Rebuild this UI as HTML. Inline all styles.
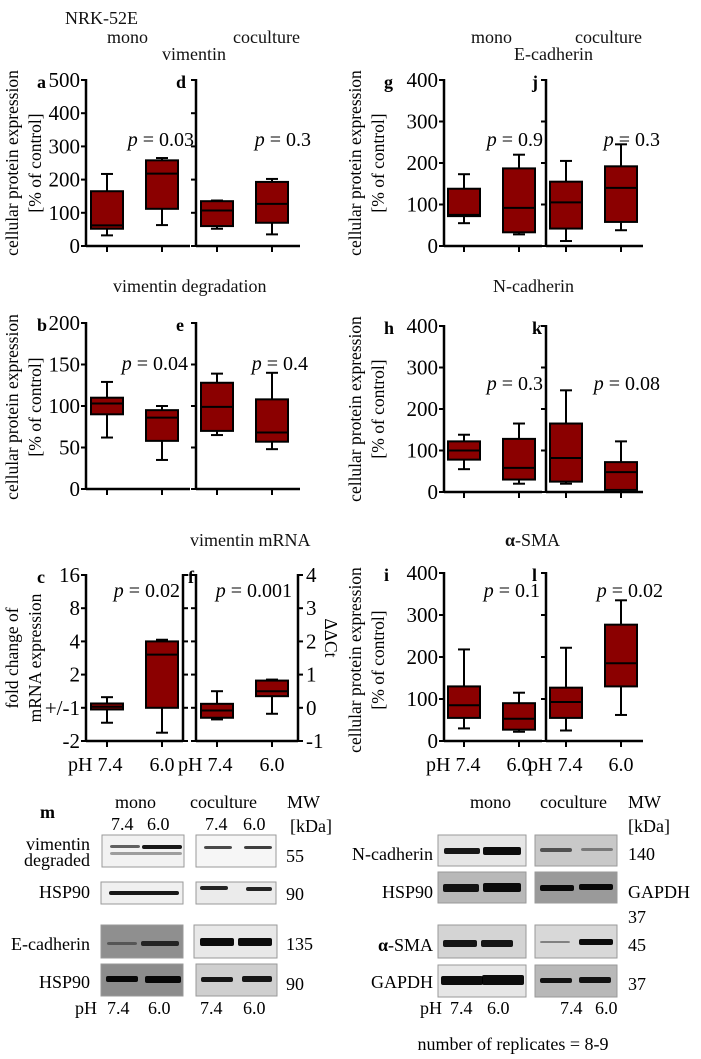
<!DOCTYPE html>
<html><head><meta charset="utf-8"><style>
html,body{margin:0;padding:0;background:#fff;}
svg{display:block;font-family:"Liberation Serif",serif;}
</style></head><body>
<svg id="fig" width="701" height="1059" viewBox="0 0 701 1059">
<g font-size="18" fill="#111">
<text x="65" y="24">NRK-52E</text>
<text x="107" y="43">mono</text>
<text x="233" y="43">coculture</text>
<text x="162" y="60">vimentin</text>
<text x="471" y="43">mono</text>
<text x="575" y="43">coculture</text>
<text x="514" y="60">E-cadherin</text>
<text x="113" y="292">vimentin degradation</text>
<text x="493" y="292">N-cadherin</text>
<text x="190" y="546">vimentin mRNA</text>
<text x="505" y="546"><tspan font-weight="bold">α</tspan>-SMA</text>
</g>
<g id="charts"></g>
<g id="blots"></g>
</svg>
<script>
// ---------- data ----------
const groupLabels = ["pH 7.4", "6.0"];
const aBoxes = [[32,52,62,165,217],[63,112,218,258,265]];
const dBoxes = [[52,60,107,135,137],[35,70,127,193,202]];
const bBoxes = [[62,90,103,110,129],[35,58,86,95,100]];
const eBoxes = [[65,70,99,128,139],[48,57,68,108,140]];
const cBoxes = [[-0.45,-0.05,0.03,0.13,0.32],[-0.75,0,1.6,2,2.05]];
const fBoxes = [[-0.35,-0.3,-0.08,0.12,0.5],[-0.18,0.35,0.5,0.82,0.85]];
const gBoxes = [[55,72,75,138,173],[28,33,92,187,220]];
const jBoxes = [[12,42,105,155,205],[38,58,140,192,245]];
const hBoxes = [[55,78,100,122,138],[20,30,58,128,165]];
const kBoxes = [[20,25,82,165,245],[0,5,48,72,122]];
const iBoxes = [[30,55,85,130,218],[22,27,53,90,115]];
const lBoxes = [[25,55,93,127,222],[62,130,185,277,335]];
const ticks500 = [0,100,200,300,400,500];
const ticks200 = [0,50,100,150,200];
const ticks400 = [0,100,200,300,400];
const ticksDdct = [-1,0,1,2,3,4];
const foldLabels = ["-2","+/-1","2","4","8","16"];
const pValues = ["0.03","0.3","0.04","0.4","0.02","0.001","0.9","0.3","0.3","0.08","0.1","0.02"];

const NS="http://www.w3.org/2000/svg";
const charts=document.getElementById('charts');
function mk(tag,attrs,parent){const e=document.createElementNS(NS,tag);for(const k in attrs)e.setAttribute(k,attrs[k]);(parent||charts).appendChild(e);return e;}

function panel(o){
  const g=mk('g',{});
  
  
  const y=v=>o.yBot-(v-o.min)/(o.max-o.min)*(o.yBot-o.yTop);
  const x=i=>o.ax+o.off[i];
  const ya=mk('line',{x1:o.ax,y1:o.yTop-1,x2:o.ax,y2:o.yBot,stroke:'#000','stroke-width':2.5},g);
  
  
  const xa=mk('line',{x1:o.ax,y1:o.yBot,x2:o.ax+o.w,y2:o.yBot,stroke:'#000','stroke-width':2.5},g);
  
  
  o.ticks.forEach((t,k)=>{
    mk('line',{x1:o.ax-5,y1:y(t),x2:o.ax,y2:y(t),stroke:'#000','stroke-width':2},g);
    if(o.labels){const tx=mk('text',{x:o.ax-6,y:y(t)+7,'text-anchor':'end','font-size':21},g);tx.textContent=o.labels[k];
      
      }
  });
  if(o.rightAxis){
    const rx=o.ax+o.w;
    mk('line',{x1:rx,y1:o.yTop-1,x2:rx,y2:o.yBot,stroke:'#000','stroke-width':2.5},g);
    o.ticks.forEach((t,k)=>{
      mk('line',{x1:rx,y1:y(t),x2:rx+5,y2:y(t),stroke:'#000','stroke-width':2},g);
      if(o.rightLabels){const tx=mk('text',{x:rx+8,y:y(t)+7,'font-size':21},g);tx.textContent=o.rightLabels[k];
        
        }
    });
  }
  o.boxes.forEach((b,i)=>{
    const cx=x(i),hw=16;
    mk('line',{x1:cx,y1:o.yBot,x2:cx,y2:o.yBot+6,stroke:'#000','stroke-width':2},g);
    const wh=mk('g',{},g);
    
    
    mk('line',{x1:cx,y1:y(b[0]),x2:cx,y2:y(b[4]),stroke:'#000','stroke-width':2},wh);
    mk('line',{x1:cx-6,y1:y(b[0]),x2:cx+6,y2:y(b[0]),stroke:'#000','stroke-width':2},wh);
    mk('line',{x1:cx-6,y1:y(b[4]),x2:cx+6,y2:y(b[4]),stroke:'#000','stroke-width':2},wh);
    const r=mk('rect',{x:cx-hw,y:y(b[3]),width:hw*2,height:Math.max(1,y(b[1])-y(b[3])),fill:'#8b0000',stroke:'#000','stroke-width':2},g);
    
    
    mk('line',{x1:cx-hw,y1:y(b[2]),x2:cx+hw,y2:y(b[2]),stroke:'#000','stroke-width':2},g);
    if(o.xlab){const tx=i==0?mk('text',{x:o.ax-18,y:o.yBot+30,'font-size':20},g):mk('text',{x:cx,y:o.yBot+30,'text-anchor':'middle','font-size':20},g);tx.textContent=groupLabels[i];
      
      }
  });
  const L=mk('text',{x:o.lx,y:o.yTop+8,'font-weight':'bold','font-size':18},g);L.textContent=o.id;
  
  
  const p=mk('text',{x:o.px,y:o.py,'text-anchor':'end','font-size':20},g);
  p.innerHTML='<tspan font-style="italic">p</tspan> = '+pValues[o.pi];
  
  
}
const L=[21,76],R=[20,75];
panel({id:'a',ax:86,w:104,yTop:80,yBot:246,min:0,max:500,ticks:ticks500,labels:ticks500,boxes:aBoxes,off:L,lx:37,px:194,py:146,pi:0});
panel({id:'d',ax:196,w:104,yTop:80,yBot:246,min:0,max:500,ticks:ticks500,boxes:dBoxes,off:L,lx:176,px:311,py:146,pi:1});
panel({id:'b',ax:86,w:104,yTop:323,yBot:489,min:0,max:200,ticks:ticks200,labels:ticks200,boxes:bBoxes,off:L,lx:37,px:188,py:370,pi:2});
panel({id:'e',ax:196,w:104,yTop:323,yBot:489,min:0,max:200,ticks:ticks200,boxes:eBoxes,off:L,lx:176,px:308,py:370,pi:3});
panel({id:'c',ax:86,w:97,yTop:575,yBot:741,min:-1,max:4,ticks:ticksDdct,labels:foldLabels,rightAxis:true,boxes:cBoxes,off:L,lx:37,px:180,py:597,pi:4,xlab:true});
panel({id:'f',ax:196,w:102,yTop:575,yBot:741,min:-1,max:4,ticks:ticksDdct,rightAxis:true,rightLabels:ticksDdct,boxes:fBoxes,off:L,lx:188,px:292,py:597,pi:5,xlab:true});
panel({id:'g',ax:444,w:98,yTop:80,yBot:246,min:0,max:400,ticks:ticks400,labels:ticks400,boxes:gBoxes,off:R,lx:384,px:543,py:146,pi:6});
panel({id:'j',ax:546,w:97,yTop:80,yBot:246,min:0,max:400,ticks:ticks400,boxes:jBoxes,off:R,lx:532,px:660,py:146,pi:7});
panel({id:'h',ax:444,w:98,yTop:326,yBot:492,min:0,max:400,ticks:ticks400,labels:ticks400,boxes:hBoxes,off:R,lx:384,px:543,py:390,pi:8});
panel({id:'k',ax:546,w:97,yTop:326,yBot:492,min:0,max:400,ticks:ticks400,boxes:kBoxes,off:R,lx:532,px:660,py:390,pi:9});
panel({id:'i',ax:444,w:98,yTop:573,yBot:741,min:0,max:400,ticks:ticks400,labels:ticks400,boxes:iBoxes,off:R,lx:384,px:540,py:597,pi:10,xlab:true});
panel({id:'l',ax:546,w:97,yTop:573,yBot:741,min:0,max:400,ticks:ticks400,boxes:lBoxes,off:R,lx:532,px:663,py:597,pi:11,xlab:true});

function rot(txt,x,y,name,deg){const t=mk('text',{x:x,y:y,'text-anchor':'middle','font-size':17.5,transform:'rotate('+(deg||-90) +' '+x+' '+y+')'});t.textContent=txt;
  
  }
rot('cellular protein expression',18,163,'y-axis-title-a');rot('[% of control]',41,163,'y-axis-title-a2');
rot('cellular protein expression',18,407,'y-axis-title-b');rot('[% of control]',41,407,'y-axis-title-b2');
rot('fold change of',18,658,'y-axis-title-c');rot('mRNA expression',41,658,'y-axis-title-c2');
rot('ΔΔCt',325,638,'y-axis-title-f',90);
rot('cellular protein expression',361,163,'y-axis-title-g');rot('[% of control]',384,163,'y-axis-title-g2');
rot('cellular protein expression',361,409,'y-axis-title-h');rot('[% of control]',384,409,'y-axis-title-h2');
rot('cellular protein expression',361,660,'y-axis-title-i');rot('[% of control]',384,660,'y-axis-title-i2');

// ---------- blots ----------
const bl=document.getElementById('blots');
function T(txt,x,y,anchor,name,extra){const t=mk('text',Object.assign({x:x,y:y,'text-anchor':anchor||'start','font-size':18},extra||{}),bl);t.textContent=txt;
  
  return t;}
function blot(x,y,w,h,bg,bands,name){
  const r=mk('rect',{x:x,y:y,width:w,height:h,fill:bg,stroke:'#999','stroke-width':1},bl);
  
  
  bands.forEach(b=>mk('rect',{x:x+b[0],y:y+b[1],width:b[2],height:b[3],rx:2,fill:'#000',opacity:b[4]},bl));
}
T('m',40,818,'start','panel-letter-m',{'font-weight':'bold'});
T('mono',115,808,'start','blot-mono-left');T('coculture',190,808,'start','blot-coculture-left');T('MW',287,808,'start','mw-left');
T('7.4',111,830,'start','lane-74');T('6.0',147,830,'start','lane-60');T('7.4',205,830,'start','lane-74b');T('6.0',243,830,'start','lane-60b');
T('[kDa]',290,832,'start','kda-left');
T('vimentin',90,850,'end','label-vimentin');T('degraded',90,866,'end','label-degraded');
T('HSP90',90,898,'end','label-hsp90-1');T('E-cadherin',90,950,'end','label-ecad');T('HSP90',90,988,'end','label-hsp90-2');
T('55',286,862,'start','mw-55');T('90',286,900,'start','mw-90');T('135',286,950,'start','mw-135');T('90',286,990,'start','mw-90b');
T('pH',75,1014,'start','ph-left');T('7.4',107,1014,'start','ph-74');T('6.0',148,1014,'start','ph-60');T('7.4',200,1014,'start','ph-74b');T('6.0',243,1014,'start','ph-60b');
blot(102,835,82,32,'#f2f2f2',[[8,10,30,3,0.6],[40,10,40,4,0.9],[8,17,72,3,0.35]],'blot-vimentin-mono');
blot(196,835,80,32,'#f6f6f6',[[8,11,28,3,0.7],[48,11,28,3,0.75]],'blot-vimentin-coculture');
blot(101,882,82,22,'#f0f0f0',[[8,9,70,4,0.9]],'blot-hsp90-mono');
blot(196,882,80,22,'#ebebeb',[[4,4,28,4,0.85],[50,5,26,4,0.85]],'blot-hsp90-coculture');
blot(101,925,82,33,'#8f8f8f',[[6,17,30,3,0.4],[40,16,38,5,0.75]],'blot-ecad-mono');
blot(194,925,83,33,'#e8e8e8',[[6,13,34,8,0.95],[44,13,34,8,0.95]],'blot-ecad-coculture');
blot(101,964,82,32,'#8c8c8c',[[5,12,32,6,0.95],[44,12,36,7,0.95]],'blot-hsp90b-mono');
blot(196,964,81,32,'#cfcfcf',[[5,13,32,5,0.9],[46,12,30,6,0.9]],'blot-hsp90b-coculture');

T('mono',470,808,'start','blot-mono-right');T('coculture',540,808,'start','blot-coculture-right');T('MW',628,808,'start','mw-right');
T('[kDa]',628,832,'start','kda-right');
T('N-cadherin',433,860,'end','label-ncad');T('HSP90',433,898,'end','label-hsp90-3');
T('-SMA',433,951,'end','label-asma');T('α',388,951,'end','label-alpha',{'font-weight':'bold'});T('GAPDH',433,988,'end','label-gapdh');
T('140',628,860,'start','mw-140');T('GAPDH',628,898,'start','mw-gapdh');T('37',628,923,'start','mw-37');T('45',628,951,'start','mw-45');T('37',628,990,'start','mw-37b');
T('pH',420,1014,'start','ph-right');T('7.4',450,1014,'start','ph-74r');T('6.0',487,1014,'start','ph-60r');T('7.4',560,1014,'start','ph-74rb');T('6.0',595,1014,'start','ph-60rb');
T('number of replicates = 8-9',513,1050,'middle','replicates-note');
blot(438,835,88,31,'#e6e6e6',[[6,13,36,6,0.9],[45,12,38,8,0.95]],'blot-ncad-mono');
blot(535,835,82,31,'#c8c8c8',[[5,13,32,4,0.6],[46,13,32,3,0.4]],'blot-ncad-coculture');
blot(438,872,88,31,'#b8b8b8',[[5,12,36,8,0.9],[45,11,38,9,0.95]],'blot-hsp90-mono-r');
blot(535,872,82,31,'#9a9a9a',[[5,13,34,6,0.95],[44,12,34,6,0.95]],'blot-gapdh-coculture');
blot(438,925,88,33,'#d4d4d4',[[5,15,34,7,0.9],[43,15,32,7,0.9]],'blot-asma-mono');
blot(535,925,82,33,'#d8d8d8',[[5,16,30,2,0.4],[44,14,34,6,0.95]],'blot-asma-coculture');
blot(438,965,88,32,'#e6e6e6',[[3,11,42,9,0.95],[44,10,42,10,0.95]],'blot-gapdh-mono');
blot(535,965,82,32,'#b8b8b8',[[5,13,32,5,0.9],[44,12,32,6,0.9]],'blot-gapdh-coculture2');
</script>
</body></html>
